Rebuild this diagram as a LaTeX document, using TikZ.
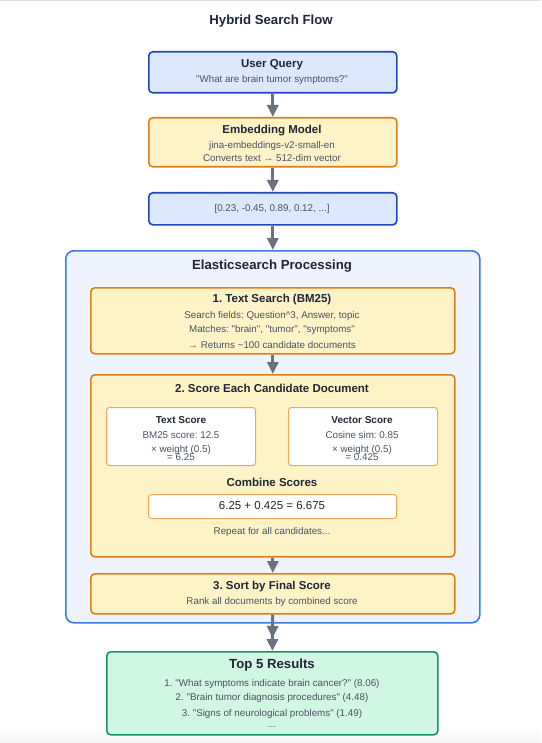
\documentclass[tikz,border=0pt]{standalone}
\usepackage{fontspec}
\setmainfont{Liberation Sans}[Ligatures=TeXOff]
\usetikzlibrary{arrows.meta, calc}
\frenchspacing

\definecolor{bluefill}{HTML}{DCE8FD}
\definecolor{blueline}{HTML}{2446B8}
\definecolor{orangefill}{HTML}{FEF3C7}
\definecolor{orangeline}{HTML}{DD7F1A}
\definecolor{lightorange}{HTML}{F2A65A}
\definecolor{procfill}{HTML}{EEF3FD}
\definecolor{procline}{HTML}{3B7BEA}
\definecolor{greenfill}{HTML}{D1F7E4}
\definecolor{greenline}{HTML}{16946A}
\definecolor{arrowgray}{HTML}{6B7180}
\definecolor{headtext}{HTML}{1F2633}
\definecolor{bodytext}{HTML}{4B5260}

\tikzset{
    box/.style={draw, rounded corners=4pt, line width=1.6pt, anchor=north west, inner sep=0pt},
    bluebox/.style={box, fill=bluefill, draw=blueline},
    orangebox/.style={box, fill=orangefill, draw=orangeline},
    whitebox/.style={box, fill=white, draw=lightorange, line width=1pt, rounded corners=3pt},
    flow/.style={-{Triangle[length=12pt, width=11pt]}, draw=arrowgray, fill=arrowgray, line width=3pt},
    head/.style={text=headtext, font=\bfseries\fontsize{11.5}{14}\selectfont},
    bighead/.style={text=headtext, font=\bfseries\fontsize{13.2}{16}\selectfont},
    smallhead/.style={text=headtext, font=\bfseries\fontsize{10}{12}\selectfont},
    body/.style={text=bodytext, font=\fontsize{9.8}{12}\selectfont},
}

\begin{document}
\begin{tikzpicture}[x=1pt, y=-1pt]
    \useasboundingbox[fill=white] (0,0) rectangle (541,743);
    % page edges
    \fill[black!12] (0,0) rectangle (541,1.3);
    \shade[top color=white, bottom color=black!4] (0,724) rectangle (541,743);

    % Title
    \node[text=headtext, font=\bfseries\fontsize{13.2}{16}\selectfont] (title) at (271,21) {Hybrid Search Flow};

    % Input side
    \node[bluebox, minimum width=248pt, minimum height=41pt] (query) at (148,51) {};
    \node[head] (querytitle) at (272,65) {User Query};
    \node[body] (querytext) at (272,80) {"What are brain tumor symptoms?"};

    \node[orangebox, minimum width=248pt, minimum height=49pt] (embed) at (148,117) {};
    \node[head] (embedtitle) at (272,131) {Embedding Model};
    \node[body] (embedname) at (272,146) {jina-embeddings-v2-small-en};
    \node[body] (embedtext) at (272,158) {Converts text → 512-dim vector};

    \node[bluebox, minimum width=248pt, minimum height=32pt] (vec) at (148,192) {};
    \node[body] (vectext) at (272,209) {[0.23, -0.45, 0.89, 0.12, ...]};

    % Elasticsearch container
    \node[box, fill=procfill, draw=procline, rounded corners=8pt, minimum width=414pt, minimum height=372pt] (proc) at (65,250) {};
    \node[bighead] (proctitle) at (272,266) {Elasticsearch Processing};

    % Step 1
    \node[orangebox, minimum width=364pt, minimum height=66pt] (search) at (90,287) {};
    \node[head] (searchtitle) at (272,300) {1. Text Search (BM25)};
    \node[body] (searchfields) at (272,316) {Search fields: Question\textasciicircum 3, Answer, topic};
    \node[body] (searchmatch) at (272,330) {Matches: "brain", "tumor", "symptoms"};
    \node[body] (searchret) at (272,345) {→ Returns \textasciitilde 100 candidate documents};

    % Step 2
    \node[orangebox, minimum width=364pt, minimum height=182pt] (score) at (90,374) {};
    \node[head] (scoretitle) at (272,388) {2. Score Each Candidate Document};

    \node[whitebox, minimum width=149pt, minimum height=58pt] (textscore) at (106,407) {};
    \node[smallhead] (tstitle) at (181,420) {Text Score};
    \node[body] (tsbm) at (181,435) {BM25 score: 12.5};
    \node[body] (tsweight) at (181,450) {× weight (0.5)};
    \node[body] (tsresult) at (181,457) {= 6.25};

    \node[whitebox, minimum width=149pt, minimum height=58pt] (vecscore) at (288,407) {};
    \node[smallhead] (vstitle) at (362,420) {Vector Score};
    \node[body] (vscos) at (362,435) {Cosine sim: 0.85};
    \node[body] (vsweight) at (362,450) {× weight (0.5)};
    \node[body] (vsresult) at (362,457) {= 0.425};

    \node[head] (combinetitle) at (272,482) {Combine Scores};
    \node[whitebox, minimum width=248pt, minimum height=24pt] (combine) at (148,494) {};
    \node[text=headtext, font=\fontsize{11.5}{14}\selectfont] (combinetext) at (272,506) {6.25 + 0.425 = 6.675};
    \node[body] (repeat) at (272,532) {Repeat for all candidates...};

    % Step 3
    \node[orangebox, minimum width=364pt, minimum height=40pt] (sort) at (90,573) {};
    \node[head] (sorttitle) at (272,587) {3. Sort by Final Score};
    \node[body] (sorttext) at (272,602) {Rank all documents by combined score};

    % Results
    \node[box, fill=greenfill, draw=greenline, minimum width=331pt, minimum height=83pt] (results) at (106,651) {};
    \node[bighead] (resultstitle) at (272,665) {Top 5 Results};
    \node[body] (res1) at (272,684) {1. "What symptoms indicate brain cancer?" (8.06)};
    \node[body] (res2) at (272,698) {2. "Brain tumor diagnosis procedures" (4.48)};
    \node[body] (res3) at (272,714) {3. "Signs of neurological problems" (1.49)};
    \node[body] (resmore) at (272,727) {...};

    % Arrows
    \draw[flow] (query) -- (embed);
    \draw[flow] (embed) -- (vec);
    \draw[flow] (vec) -- (proc);
    \draw[flow] (search) -- (score);
    \draw[flow] (score) -- (sort);
    \draw[flow, shorten >=13pt] (sort) -- (results);
    \draw[flow] (proc) -- (results);

\end{tikzpicture}
\end{document}
